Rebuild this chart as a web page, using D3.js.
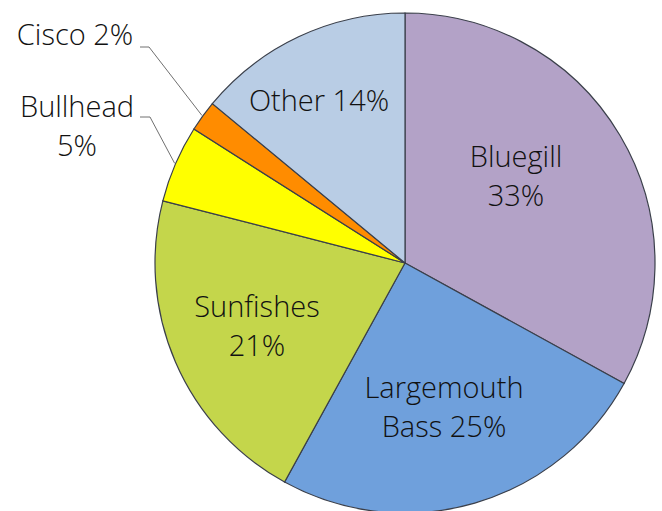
<!DOCTYPE html>
<html>
<head>
<meta charset="utf-8">
<script src="https://cdn.jsdelivr.net/npm/d3@7"></script>
<style>
  body { margin: 0; background: #fff; }
  text { font-family: "Open Sans", sans-serif; font-weight: 300; fill: #111; }
</style>
</head>
<body>
<div id="chart"></div>
<script>
var species = ["Bluegill", "Largemouth Bass", "Sunfishes", "Bullhead", "Cisco", "Other"];
var percents = [33, 25, 21, 5, 2, 14];
var labelLines = [["Bluegill", "33%"], ["Largemouth", "Bass 25%"], ["Sunfishes", "21%"], ["Bullhead", "5%"], ["Cisco 2%"], ["Other 14%"]];
var colors = ["#b3a2c7", "#6fa0dc", "#c4d64b", "#ffff00", "#ff8c00", "#b9cde5"];

var svgWidth = 662;
var svgHeight = 511;
var cx = 405, cy = 263, radius = 250;

// label centres (layout only)
var labelXY = [[516, 176], [444, 407], [257, 326], [77, 126], [75, 35], [319, 101]];

var svg = d3.select("#chart")
  .append("svg")
  .attr("width", svgWidth)
  .attr("height", svgHeight);

var pieGroup = svg.append("g")
  .attr("transform", `translate(${cx}, ${cy})`);

var pie = d3.pie().sort(null).value(d => d);
var arcs = pie(percents);
var arc = d3.arc().innerRadius(0).outerRadius(radius);

pieGroup.selectAll("path")
  .data(arcs)
  .enter()
  .append("path")
  .attr("d", arc)
  .attr("fill", (d, i) => colors[i])
  .attr("stroke", "#3a3f4a")
  .attr("stroke-width", 1.2);

// leader lines for small slices
var leaders = [
  { i: 3, start: [140, 117], elbow: [150, 117] },
  { i: 4, start: [140, 47], elbow: [149, 47] }
];
leaders.forEach(function(l) {
  var a = arcs[l.i];
  var mid = (a.startAngle + a.endAngle) / 2;
  var ex = cx + (radius + 1) * Math.sin(mid);
  var ey = cy - (radius + 1) * Math.cos(mid);
  svg.append("polyline")
    .attr("points", [l.start, l.elbow, [ex, ey]].map(p => p.join(",")).join(" "))
    .attr("fill", "none")
    .attr("stroke", "#707070")
    .attr("stroke-width", 1);
});

var lineH = 39;
labelLines.forEach(function(lines, i) {
  var t = svg.append("text")
    .attr("text-anchor", "middle")
    .attr("font-size", "29px");
  var y0 = labelXY[i][1] - (lines.length - 1) * lineH / 2 + 10;
  lines.forEach(function(s, j) {
    t.append("tspan")
      .attr("x", labelXY[i][0])
      .attr("y", y0 + j * lineH)
      .text(s);
  });
});
</script>
</body>
</html>
